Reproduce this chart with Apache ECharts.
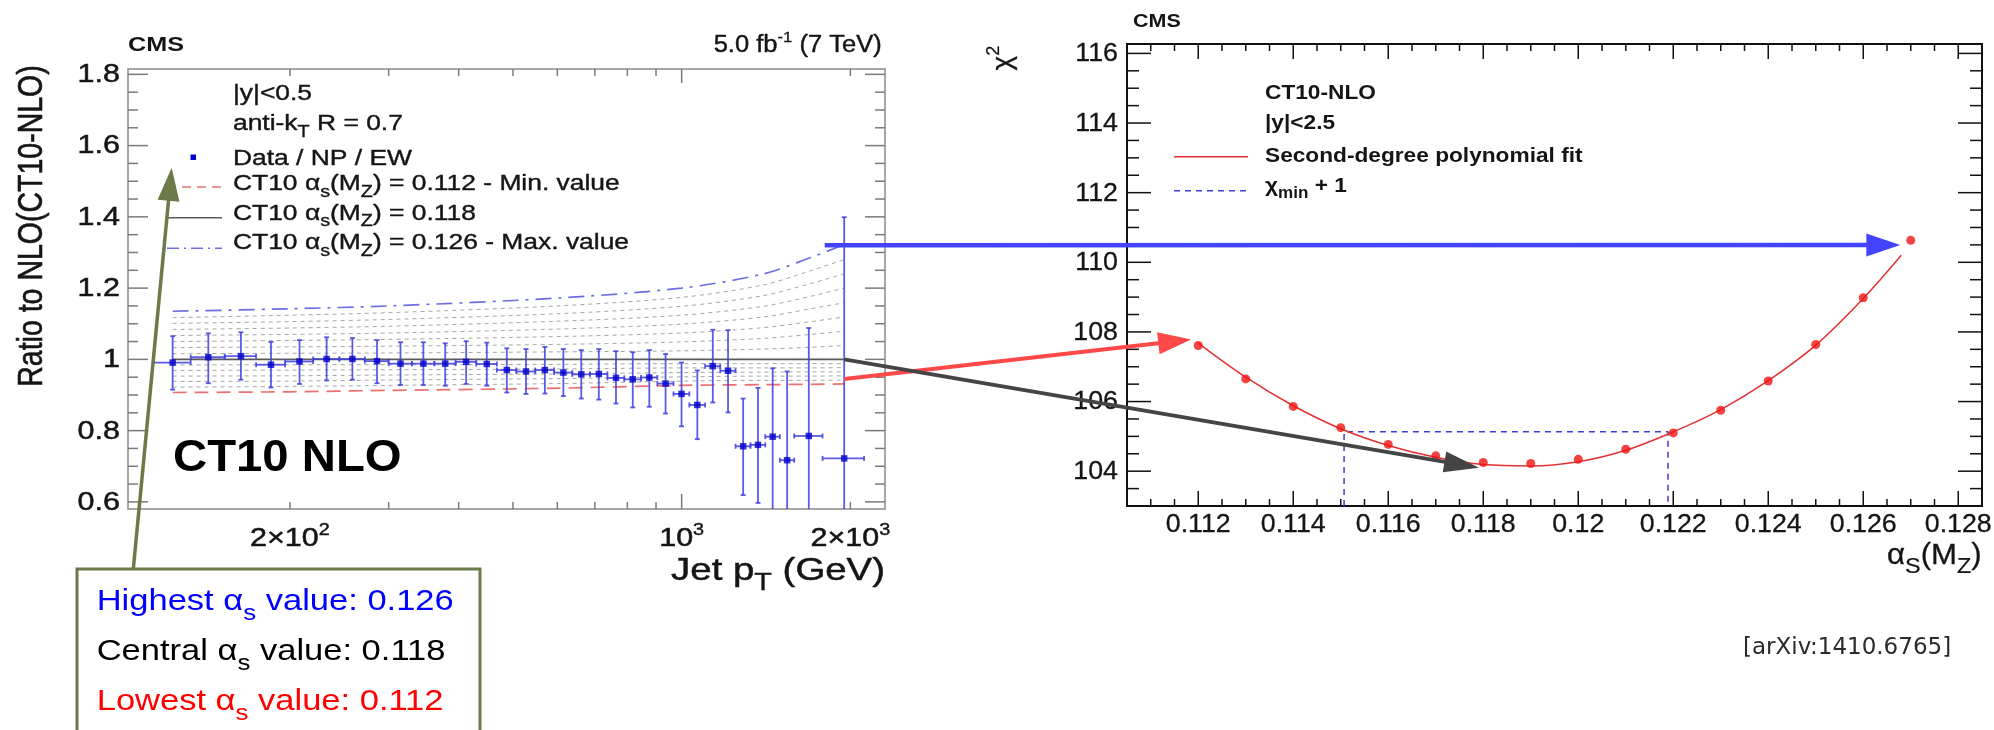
<!DOCTYPE html>
<html>
<head>
<meta charset="utf-8">
<script src="https://cdn.jsdelivr.net/npm/echarts@6.0.0/dist/echarts.min.js"></script>
<style>
  html, body { margin: 0; padding: 0; background: #fff; }
  #c { width: 1994px; height: 730px; }
</style>
</head>
<body>
<div id="c"></div>
<script>
// ---------------- Left panel: data / theory ratio vs jet pT ----------------
const ptLow = [114,133,153,174,196,220,245,272,300,330,362,395,430,468,507,548,592,638,686,737,790,846,905,967,1032,1101,1172,1248,1327,1410,1497,1588,1784];
const ptHigh = [133,153,174,196,220,245,272,300,330,362,395,430,468,507,548,592,638,686,737,790,846,905,967,1032,1101,1172,1248,1327,1410,1497,1588,1784,2116];
const ptCentre = [123.5,143,163.5,185,208,232.5,258.5,286,315,346,378.5,412.5,449,487.5,527.5,570,615,662,711.5,763.5,818,875.5,936,999.5,1066.5,1136.5,1210,1287.5,1368.5,1453.5,1542.5,1686,1950];
const ratio = [0.991,1.006,1.009,0.985,0.994,1.001,1.001,0.995,0.988,0.988,0.988,0.993,0.987,0.970,0.966,0.970,0.963,0.958,0.959,0.948,0.944,0.949,0.932,0.903,0.872,0.981,0.968,0.756,0.760,0.783,0.717,0.785,0.722];
const ratioUp = [1.065,1.073,1.076,1.049,1.054,1.062,1.060,1.054,1.048,1.048,1.045,1.051,1.047,1.031,1.029,1.035,1.029,1.026,1.029,1.023,1.020,1.026,1.015,0.991,0.969,1.083,1.082,0.890,0.920,0.975,0.966,1.088,1.399];
const ratioDown = [0.915,0.933,0.943,0.921,0.931,0.941,0.943,0.933,0.928,0.928,0.926,0.931,0.926,0.907,0.903,0.904,0.897,0.890,0.887,0.876,0.865,0.867,0.848,0.812,0.776,0.879,0.851,0.619,0.597,0.570,0.470,0.490,0.050];

// CT10 NLO predictions for different alpha_s(MZ), relative to alpha_s = 0.118
const thPt = [123.5, 200, 300, 600, 1000, 1400, 1700, 1950];
const as112 = [0.907,0.909,0.913,0.919,0.927,0.929,0.930,0.931];
const as113 = [0.922,0.924,0.927,0.932,0.939,0.941,0.941,0.942];
const as114 = [0.938,0.939,0.942,0.946,0.951,0.953,0.953,0.954];
const as115 = [0.953,0.954,0.956,0.959,0.963,0.964,0.965,0.965];
const as116 = [0.969,0.970,0.971,0.973,0.976,0.976,0.976,0.977];
const as117 = [0.984,0.985,0.985,0.986,0.988,0.988,0.988,0.988];
const as118 = [1,1,1,1,1,1,1,1];
const as119 = [1.016,1.017,1.018,1.021,1.024,1.029,1.034,1.039];
const as120 = [1.033,1.035,1.037,1.042,1.049,1.059,1.070,1.079];
const as121 = [1.050,1.053,1.056,1.064,1.074,1.089,1.106,1.119];
const as122 = [1.067,1.070,1.074,1.085,1.099,1.119,1.142,1.159];
const as123 = [1.084,1.088,1.093,1.107,1.124,1.149,1.177,1.200];
const as124 = [1.101,1.106,1.112,1.128,1.149,1.179,1.213,1.240];
const as125 = [1.117,1.124,1.131,1.150,1.174,1.209,1.249,1.280];
const as126 = [1.135,1.142,1.150,1.172,1.200,1.240,1.286,1.322];

const leftYTicks = [0.6, 0.8, 1, 1.2, 1.4, 1.6, 1.8];
const leftYLabels = ['0.6', '0.8', '1', '1.2', '1.4', '1.6', '1.8'];
const leftXMajor = [1000];
const leftXMinor = [200, 300, 400, 500, 600, 700, 800, 900, 2000];
const leftXLabelValues = [200, 1000, 2000];
const leftXLabels = ['2×10{sup|2}', '10{sup|3}', '2×10{sup|3}'];

// ---------------- Right panel: chi2 scan vs alpha_s(MZ) ----------------
const alphaS = [0.112,0.113,0.114,0.115,0.116,0.117,0.118,0.119,0.120,0.121,0.122,0.123,0.124,0.125,0.126,0.127];
const chi2 = [107.61,106.65,105.86,105.25,104.77,104.44,104.25,104.22,104.34,104.63,105.10,105.75,106.59,107.64,108.98,110.63];
const fitAlpha = [0.112,0.113,0.114,0.115,0.116,0.117,0.118,0.119,0.120,0.121,0.122,0.123,0.124,0.125,0.126,0.1268];
const fitChi2 = [107.68,106.70,105.88,105.22,104.74,104.40,104.19,104.15,104.27,104.60,105.13,105.77,106.60,107.62,108.96,110.20];
const chi2MinPlusOne = 105.13;
const alphaAtMinPlusOne = [0.11507, 0.12189];

const rightXTicks = [0.112, 0.114, 0.116, 0.118, 0.120, 0.122, 0.124, 0.126, 0.128];
const rightXLabels = ['0.112', '0.114', '0.116', '0.118', '0.12', '0.122', '0.124', '0.126', '0.128'];
const rightYTicks = [104, 106, 108, 110, 112, 114, 116];
const rightYLabels = ['104', '106', '108', '110', '112', '114', '116'];

// Annotation anchors (data coordinates of each panel)
const pointerToLegend = [123, 1.5375];
const arrowMax = { from: [1800, 1.32], to: [0.12678, 110.5] };
const arrowMin = { from: [1950, 0.945], to: [0.11185, 107.78] };
const arrowCentral = { from: [1950, 1.0], to: [0.11791, 104.1] };

// ---------------- helpers ----------------
const FONT = "'Liberation Sans', Arial, Helvetica, sans-serif";
const OLIVE = '#6c7a49';

function minorList(start, stop, step, majors) {
  const out = [];
  const n = Math.round((stop - start) / step);
  for (let k = 0; k <= n; k++) {
    const v = +(start + k * step).toFixed(6);
    if (!majors.some(m => Math.abs(m - v) < step / 10)) out.push(v);
  }
  return out;
}

function richStyles(size, bold, color, family, heavy) {
  const f = family || FONT, w = bold ? 'bold ' : '';
  const extra = heavy ? { stroke: color, lineWidth: heavy * 0.8 } : {};
  return {
    sub: Object.assign({ font: w + (size * 0.75).toFixed(1) + 'px ' + f, fill: color, padding: [size * 0.76, 0, 0, 0] }, extra),
    sup: Object.assign({ font: w + (size * 0.65).toFixed(1) + 'px ' + f, fill: color, padding: [0, 0, size * 0.64, 0] }, extra)
  };
}

// Text placed by its baseline (or by its middle when o.mid is set)
function label(x, y, text, size, o) {
  o = o || {};
  const color = o.color || '#151515';
  const align = o.align || 'left';
  const style = {
    text: text,
    font: (o.bold ? 'bold ' : '') + size + 'px ' + (o.family || FONT),
    fill: color,
    align: align, verticalAlign: 'middle',
    textAlign: align, textVerticalAlign: 'middle',
    rich: richStyles(size, o.bold, color, o.family, o.heavy)
  };
  if (o.heavy) { style.stroke = color; style.lineWidth = o.heavy; }
  return {
    type: 'text', x: x, y: o.mid ? y : y - 0.32 * size,
    rotation: o.rot || 0, scaleX: o.sx || 1, scaleY: o.sy || 1,
    silent: true, z: o.z || 60, style: style
  };
}

function seg(x1, y1, x2, y2, stroke, w, dash, z) {
  return { type: 'line', silent: true, z: z || 60,
    shape: { x1, y1, x2, y2 },
    style: { stroke, lineWidth: w, lineDash: dash || null } };
}

function arrow(p0, p1, color, w, headLen, headW) {
  const dx = p1[0] - p0[0], dy = p1[1] - p0[1];
  const len = Math.hypot(dx, dy), ux = dx / len, uy = dy / len;
  const bx = p1[0] - ux * headLen, by = p1[1] - uy * headLen;
  const nx = -uy * headW / 2, ny = ux * headW / 2;
  return [
    { type: 'line', silent: true, z: 100, shape: { x1: p0[0], y1: p0[1], x2: bx + ux * 2, y2: by + uy * 2 },
      style: { stroke: color, lineWidth: w } },
    { type: 'polygon', silent: true, z: 100,
      shape: { points: [[p1[0], p1[1]], [bx + nx, by + ny], [bx - nx, by - ny]] },
      style: { fill: color } }
  ];
}

// Frame ticks (all four sides) and tick labels, positioned through the axes
function tickLayer(gi, cfg) {
  return {
    type: 'custom', xAxisIndex: gi, yAxisIndex: gi, coordinateSystem: 'cartesian2d',
    clip: false, silent: true, z: 6,
    data: [[cfg.xRef, cfg.yRef]],
    renderItem: function (params, api) {
      const cs = params.coordSys;
      const L = cs.x, R = cs.x + cs.width, T = cs.y, B = cs.y + cs.height;
      const kids = [];
      const line = (x1, y1, x2, y2) => kids.push({ type: 'line', shape: { x1, y1, x2, y2 },
        style: { stroke: cfg.color, lineWidth: cfg.width } });
      const xp = v => api.coord([v, cfg.yRef])[0];
      const yp = v => api.coord([cfg.xRef, v])[1];
      cfg.xMajor.forEach(v => { const x = xp(v); line(x, B, x, B - cfg.xLen[0]); line(x, T, x, T + cfg.xLen[2]); });
      cfg.xMinor.forEach(v => { const x = xp(v); line(x, B, x, B - cfg.xLen[1]); line(x, T, x, T + cfg.xLen[3]); });
      cfg.yMajor.forEach(v => { const y = yp(v); line(L, y, L + cfg.yLen[0], y); line(R, y, R - cfg.yLen[2], y); });
      cfg.yMinor.forEach(v => { const y = yp(v); line(L, y, L + cfg.yLen[1], y); line(R, y, R - cfg.yLen[3], y); });
      cfg.xLabelValues.forEach((v, i) => {
        const t = label(xp(v), B + cfg.xLabelBase, cfg.xLabels[i], cfg.fontSize,
          { align: 'center', sx: cfg.sx, color: cfg.textColor, heavy: cfg.heavy });
        delete t.z; kids.push(t);
      });
      cfg.yLabelValues.forEach((v, i) => {
        const t = label(L - cfg.yLabelGap, yp(v) + 1, cfg.yLabels[i], cfg.fontSize,
          { align: 'right', sx: cfg.sx, mid: true, color: cfg.textColor, heavy: cfg.heavy });
        delete t.z; kids.push(t);
      });
      return { type: 'group', children: kids };
    }
  };
}

function zip(xs, ys) { return xs.map((x, i) => [x, ys[i]]); }

// ---------------- chart ----------------
const chart = echarts.init(document.getElementById('c'), null, { renderer: 'canvas', width: 1994, height: 730 });

const grayCurves = [as113, as114, as115, as116, as117, as119, as120, as121, as122, as123, as124, as125];
const series = [];

grayCurves.forEach(arr => series.push({
  type: 'line', xAxisIndex: 0, yAxisIndex: 0, data: zip(thPt, arr), smooth: 0.3,
  symbol: 'none', silent: true, z: 2,
  lineStyle: { color: '#a6a6a6', width: 1, type: [4, 4] }
}));
series.push({
  type: 'line', xAxisIndex: 0, yAxisIndex: 0, data: zip(thPt, as112), smooth: 0.3,
  symbol: 'none', silent: true, z: 3,
  lineStyle: { color: 'rgb(236,112,112)', width: 1.7, type: [14, 8] }
});
series.push({
  type: 'line', xAxisIndex: 0, yAxisIndex: 0, data: zip(thPt, as118), symbol: 'none', silent: true, z: 3,
  lineStyle: { color: '#5a5a5a', width: 1.7 }
});
series.push({
  type: 'line', xAxisIndex: 0, yAxisIndex: 0, data: zip(thPt, as126), smooth: 0.3,
  symbol: 'none', silent: true, z: 3,
  lineStyle: { color: 'rgb(110,110,226)', width: 1.7, type: [16, 7, 3, 7] }
});
series.push({
  type: 'custom', xAxisIndex: 0, yAxisIndex: 0, clip: true, silent: true, z: 4,
  data: ptCentre.map((x, i) => [x, ratio[i], ratioDown[i], ratioUp[i], ptLow[i], ptHigh[i]]),
  encode: { x: 0, y: 1 },
  renderItem: function (params, api) {
    const x = api.value(0), y = api.value(1);
    const c = api.coord([x, y]);
    const lo = api.coord([x, api.value(2)])[1], hi = api.coord([x, api.value(3)])[1];
    const xl = api.coord([api.value(4), y])[0], xh = api.coord([api.value(5), y])[0];
    const st = { stroke: 'rgba(64,64,222,0.85)', lineWidth: 1.8 };
    const l = (x1, y1, x2, y2) => ({ type: 'line', shape: { x1, y1, x2, y2 }, style: st });
    return { type: 'group', children: [
      l(c[0], hi, c[0], lo), l(c[0] - 2.5, hi, c[0] + 2.5, hi), l(c[0] - 2.5, lo, c[0] + 2.5, lo),
      l(xl, c[1], xh, c[1]), l(xl, c[1] - 2.5, xl, c[1] + 2.5), l(xh, c[1] - 2.5, xh, c[1] + 2.5)
    ] };
  }
});
series.push({
  type: 'scatter', xAxisIndex: 0, yAxisIndex: 0, data: zip(ptCentre, ratio),
  symbol: 'rect', symbolSize: 6.5, silent: true, z: 5, itemStyle: { color: '#0000cc' }
});

// right panel
series.push({
  type: 'line', xAxisIndex: 1, yAxisIndex: 1, symbol: 'none', silent: true, z: 2,
  data: [[alphaAtMinPlusOne[0], 103], [alphaAtMinPlusOne[0], chi2MinPlusOne],
         [alphaAtMinPlusOne[1], chi2MinPlusOne], [alphaAtMinPlusOne[1], 103]],
  lineStyle: { color: 'rgb(60,60,215)', width: 1.5, type: [6, 5] }
});
series.push({
  type: 'line', xAxisIndex: 1, yAxisIndex: 1, data: zip(fitAlpha, fitChi2), smooth: 0.35,
  symbol: 'none', silent: true, z: 3, lineStyle: { color: 'rgb(228,50,50)', width: 1.5 }
});
series.push({
  type: 'scatter', xAxisIndex: 1, yAxisIndex: 1, data: zip(alphaS, chi2),
  symbol: 'circle', symbolSize: 9, silent: true, z: 4, itemStyle: { color: '#f01414' }
});

series.push(tickLayer(0, {
  xRef: 102.8, yRef: 0.58, color: '#7a7a7a', width: 1.5, textColor: '#151515', heavy: 0.5,
  xMajor: leftXMajor, xMinor: leftXMinor, xLen: [15, 7, 14, 7],
  yMajor: leftYTicks, yMinor: minorList(0.6, 1.8, 0.05, leftYTicks), yLen: [20, 10, 20, 10],
  xLabelValues: leftXLabelValues, xLabels: leftXLabels, xLabelBase: 37.7,
  yLabelValues: leftYTicks, yLabels: leftYLabels, yLabelGap: 8,
  fontSize: 25, sx: 1.22
}));
series.push(tickLayer(1, {
  xRef: 0.1105, yRef: 103, color: '#111', width: 1.5, textColor: '#151515', heavy: 0.3,
  xMajor: rightXTicks, xMinor: minorList(0.111, 0.1285, 0.0005, rightXTicks), xLen: [15, 7, 15, 7],
  yMajor: rightYTicks, yMinor: minorList(103.5, 116, 0.5, rightYTicks), yLen: [24, 12, 24, 12],
  xLabelValues: rightXTicks, xLabels: rightXLabels, xLabelBase: 27.3,
  yLabelValues: rightYTicks, yLabels: rightYLabels, yLabelGap: 9,
  fontSize: 25, sx: 1.07
}));

chart.setOption({
  backgroundColor: '#ffffff',
  animation: false,
  grid: [
    { left: 128, top: 69, width: 757, height: 440, show: true, borderColor: '#8a8a8a', borderWidth: 1.5 },
    { left: 1127, top: 44, width: 855, height: 462, show: true, borderColor: '#111', borderWidth: 2 }
  ],
  xAxis: [
    { type: 'log', gridIndex: 0, min: 102.8, max: 2306, show: false },
    { type: 'value', gridIndex: 1, min: 0.1105, max: 0.1285, show: false }
  ],
  yAxis: [
    { type: 'value', gridIndex: 0, min: 0.58, max: 1.815, show: false },
    { type: 'value', gridIndex: 1, min: 103, max: 116.27, show: false }
  ],
  series: series
});

// ---------------- texts, legends and connecting arrows ----------------
const toL = p => chart.convertToPixel({ gridIndex: 0 }, p);
const toR = p => chart.convertToPixel({ gridIndex: 1 }, p);
const els = [];

// left panel labels
els.push(label(128, 51.7, 'CMS', 21, { bold: true, sx: 1.2 }));
els.push(label(881.7, 53, '5.0 fb{sup|-1} (7 TeV)', 23, { align: 'right', sx: 1.11, heavy: 0.4 }));
els.push(label(32.5, 226, 'Ratio to NLO(CT10-NLO)', 28.5, { align: 'center', mid: true, rot: Math.PI / 2, sy: 1.22, heavy: 0.5 }));
els.push(label(885, 581.7, 'Jet p{sub|T} (GeV)', 32, { align: 'right', sx: 1.2, heavy: 0.5 }));
const legendOpt = { sx: 1.2, heavy: 0.4 };
els.push(label(233, 101, '|y|<0.5', 22, legendOpt));
els.push(label(233, 130.7, 'anti-k{sub|T} R = 0.7', 22, legendOpt));
els.push(label(233, 165.7, 'Data / NP / EW', 22, legendOpt));
els.push(label(233, 190.7, 'CT10 α{sub|s}(M{sub|Z}) = 0.112 - Min. value', 22, legendOpt));
els.push(label(233, 220.5, 'CT10 α{sub|s}(M{sub|Z}) = 0.118', 22, legendOpt));
els.push(label(233, 250, 'CT10 α{sub|s}(M{sub|Z}) = 0.126 - Max. value', 22, legendOpt));
els.push({ type: 'rect', silent: true, z: 60, shape: { x: 190.5, y: 154.5, width: 5.5, height: 5.5 }, style: { fill: '#0000cc' } });
els.push(seg(167, 187, 222, 187, 'rgb(236,112,112)', 1.5, [9, 6]));
els.push(seg(167, 217.7, 222, 217.7, '#5a5a5a', 1.5));
els.push(seg(167, 248.3, 222, 248.3, 'rgb(110,110,226)', 1.5, [12, 5, 2, 5]));
els.push(label(173, 472.7, 'CT10 NLO', 44, { bold: true, sx: 1.075, color: '#000' }));

// right panel labels
els.push(label(1133, 28.3, 'CMS', 19, { bold: true, sx: 1.13 }));
els.push(label(1003, 58, 'χ{sup|2}', 28, { align: 'center', mid: true, rot: Math.PI / 2, heavy: 0.3 }));
els.push(label(1981.7, 565, 'α{sub|S}(M{sub|Z})', 30, { align: 'right', sx: 1.04, heavy: 0.3 }));
els.push(label(1265, 100, 'CT10-NLO', 21, { bold: true, sx: 1.08 }));
els.push(label(1265, 130, '|y|<2.5', 21, { bold: true, sx: 1.08 }));
els.push(label(1265, 163.3, 'Second-degree polynomial fit', 21, { bold: true, sx: 1.08 }));
els.push(label(1265, 192.7, 'χ{sub|min} + 1', 21, { bold: true, sx: 1.08 }));
els.push(seg(1174, 156.7, 1248, 156.7, 'rgb(228,50,50)', 1.5));
els.push(seg(1174, 190.7, 1248, 190.7, 'rgb(60,60,215)', 1.5, [6, 5]));
els.push(label(1743, 655, '[arXiv:1410.6765]', 23, { family: "'DejaVu Sans', sans-serif", color: '#2a2a2a' }));

// summary box
els.push({ type: 'rect', silent: true, z: 90, shape: { x: 77, y: 569, width: 403, height: 200 },
  style: { fill: '#ffffff', stroke: OLIVE, lineWidth: 3 } });
els.push(label(96.7, 611.7, 'Highest α{sub|s} value: 0.126', 30, { sx: 1.15, color: '#0000ff', z: 95 }));
els.push(label(96.7, 661.7, 'Central α{sub|s} value: 0.118', 30, { sx: 1.15, color: '#000000', z: 95 }));
els.push(label(96.7, 711.7, 'Lowest α{sub|s} value: 0.112', 30, { sx: 1.15, color: '#ff0000', z: 95 }));

// arrows linking the two panels
arrow([133.3, 569], toL(pointerToLegend), OLIVE, 3.5, 33, 22).forEach(e => els.push(e));
arrow(toL(arrowMax.from), toR(arrowMax.to), '#4444ff', 4.5, 34, 23).forEach(e => els.push(e));
arrow(toL(arrowMin.from), toR(arrowMin.to), '#ff4848', 4, 33, 22).forEach(e => els.push(e));
arrow(toL(arrowCentral.from), toR(arrowCentral.to), '#454545', 4, 35, 21).forEach(e => els.push(e));

chart.setOption({ graphic: { elements: els } });
</script>
</body>
</html>
